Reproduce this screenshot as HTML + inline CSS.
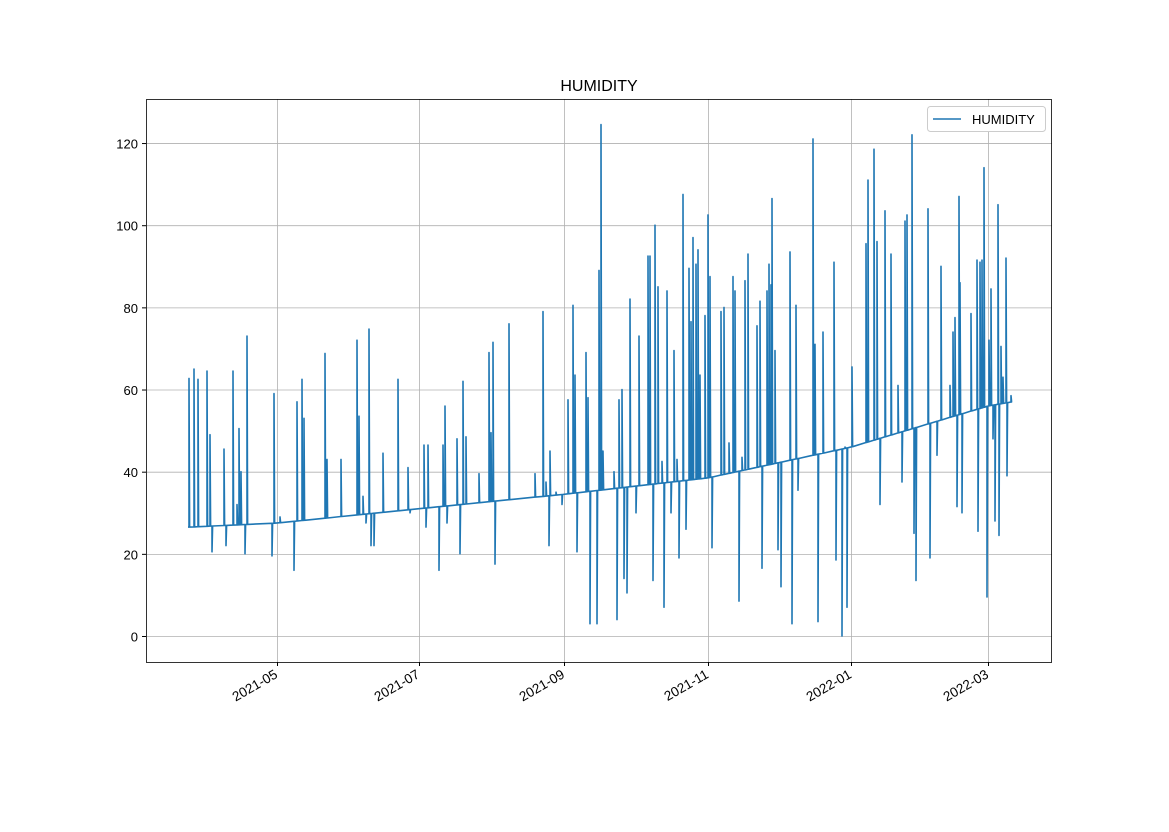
<!DOCTYPE html>
<html><head><meta charset="utf-8"><style>
body{margin:0;background:#fff;}
text{font-family:"Liberation Sans","DejaVu Sans",sans-serif;}
</style></head><body>
<svg id="s" width="1169" height="827" xmlns="http://www.w3.org/2000/svg">
<rect width="1169" height="827" fill="#fff"/>
<g id="grid" stroke="#b0b0b0" stroke-width="0.8"></g>
<path id="p" fill="none" stroke="#1f77b4" stroke-width="1.6" stroke-linejoin="round"/>
<rect x="146.5" y="99.5" width="905" height="563" fill="none" stroke="#000" stroke-width="0.8"/>
<g id="ticks" font-size="13"></g>
<text x="599" y="91" font-size="16" text-anchor="middle">HUMIDITY</text>
<rect x="927.5" y="106.5" width="118" height="25" rx="3" fill="#fff" stroke="#ccc"/>
<line x1="933" y1="119" x2="961" y2="119" stroke="#1f77b4" stroke-width="1.5"/>
<text x="972" y="124" font-size="13">HUMIDITY</text>
</svg>
<script>
var Y=function(v){return 636-4.108*v;};
var bx=[188,277,419,564,708,851,988,1012],bv=[26.5,27.5,31,34.5,38.5,46,56,57];
function B(x){for(var i=0;i<bx.length-1;i++){if(x<=bx[i+1]){return bv[i]+(bv[i+1]-bv[i])*(x-bx[i])/(bx[i+1]-bx[i]);}}return 57;}
var sp=[[189,62.7],[194,65],[198,62.5],[207,64.5],[210,49],[212,20.5],[224,45.5],[226,22],[233,64.5],[237,32],[239,50.5],[241,40],[245,20],[247,73],[272,19.5],[274,59],[280,29],[294,16],[297,57],[302,62.5],[304,53],[325,68.8],[327,43],[341,43],[357,72],[359,53.5],[363,34],[366,27.5],[369,74.7],[371,22],[374,22],[383,44.5],[398,62.5],[408,41],[410,30],[424,46.5],[426,26.5],[428,46.5],[439,16],[443,46.5],[445,56],[447,27.5],[457,48],[460,20],[463,62],[466,48.5],[479,39.5],[489,69],[491,49.5],[493,71.5],[495,17.5],[509,76],[535,39.5],[543,79],[546,37.5],[549,22],[550,45],[556,35],[562,32],[568,57.5],[573,80.5],[575,63.5],[577,20.5],[586,69],[588,58],[590,3],[597,3],[599,89],[601,124.5],[603,45],[614,40],[617,4],[619,57.5],[622,60],[624,14],[627,10.5],[630,82],[636,30],[639,73],[648,92.5],[650,92.5],[653,13.5],[655,100],[658,85],[662,42.5],[664,7],[667,84],[671,30],[674,69.5],[677,43],[679,19],[683,107.5],[686,26],[689,89.5],[691,76.5],[693,97],[696,90.5],[698,94],[700,63.5],[705,78],[708,102.5],[710,87.5],[712,21.5],[721,79],[724,80],[729,47],[733,87.5],[735,84],[739,8.5],[742,43.5],[745,86.5],[748,93],[757,75.5],[760,81.5],[762,16.5],[767,84],[769,90.5],[771,85.5],[772,106.5],[775,69.5],[778,21],[781,12],[790,93.5],[792,3],[796,80.5],[798,35.5],[813,121],[815,71],[818,3.5],[823,74],[834,91],[836,18.5],[842,0],[845,46],[847,7],[852,65.5],[866,95.5],[868,111],[874,118.5],[877,96],[880,32],[885,103.5],[891,93],[898,61],[902,37.5],[905,101],[907,102.5],[912,122],[914,25],[916,13.5],[928,104],[930,19],[937,44],[941,90],[950,61],[953,74],[955,77.5],[957,31.5],[959,107],[960,86],[962,30],[971,78.5],[977,91.5],[978,25.5],[980,91],[982,91.5],[984,114],[987,9.5],[989,72],[991,84.5],[993,48],[995,28],[998,105],[999,24.5],[1001,70.5],[1003,63],[1006,92],[1007,39],[1011,58.5]];
var d="M188,"+Y(26.5).toFixed(1);
sp.forEach(function(s){var b=Y(B(s[0])).toFixed(1);d+=" L"+s[0]+","+b+" L"+s[0]+","+Y(s[1]).toFixed(1)+" L"+(s[0]+0.6)+","+b;});
d+=" L1012,"+Y(57).toFixed(1);
document.getElementById('p').setAttribute('d',d);
var g=document.getElementById('grid'),t=document.getElementById('ticks'),h="",th="";
for(var v=0;v<=120;v+=20){var y=Y(v)+0.5;h+='<line x1="146" x2="1052" y1="'+y+'" y2="'+y+'"/>';th+='<line x1="142" x2="146" y1="'+y+'" y2="'+y+'" stroke="#000"/><text x="138" y="'+(y+5)+'" text-anchor="end">'+v+'</text>';}
var xs=[[277,"2021-05"],[419,"2021-07"],[564,"2021-09"],[708,"2021-11"],[851,"2022-01"],[988,"2022-03"]];
xs.forEach(function(a){var x=a[0]+0.5;h+='<line y1="99" y2="662" x1="'+x+'" x2="'+x+'"/>';th+='<line y1="662" y2="666" x1="'+x+'" x2="'+x+'" stroke="#000"/><text font-size="13.5" text-anchor="end" transform="translate('+(x+1)+',677) rotate(-30)">'+a[1]+'</text>';});
g.innerHTML=h;t.innerHTML=th;
</script>
</body></html>
